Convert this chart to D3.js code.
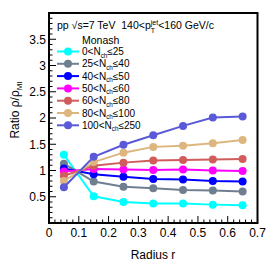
<!DOCTYPE html>
<html><head><meta charset="utf-8">
<script src="https://cdn.jsdelivr.net/npm/d3@7"></script>
<style>body{margin:0;background:#fff}svg{display:block}text{font-family:"Liberation Sans",Arial,sans-serif;fill:#000;white-space:pre}</style>
</head><body><svg id="c" width="273" height="273"></svg>
<script>
const radius = [0.05,0.15,0.25,0.35,0.45,0.55,0.65];
const seriesNames = ["0-25","25-40","40-50","50-60","60-80","80-100","100-250"];
const lowEdges = ["0","25","40","50","60","80","100"];
const highEdges = ["25","40","50","60","80","100","250"];
const colors = ["#00ffff","#6f7f8f","#0000ff","#ff00ff","#d05c5c","#ddb67f","#5a5ad8"];
const s0 = [1.30,0.51,0.40,0.37,0.37,0.35,0.34];
const s1 = [1.13,0.79,0.69,0.66,0.63,0.62,0.60];
const s2 = [1.04,0.93,0.88,0.84,0.83,0.80,0.79];
const s3 = [0.98,1.03,1.02,1.01,1.02,1.00,0.99];
const s4 = [0.90,1.09,1.15,1.19,1.20,1.21,1.22];
const s5 = [0.80,1.16,1.34,1.45,1.47,1.52,1.58];
const s6 = [0.68,1.26,1.49,1.67,1.85,2.01,2.03];
const values = [s0,s1,s2,s3,s4,s5,s6];
const xTicks = [0,0.1,0.2,0.3,0.4,0.5,0.6,0.7];
const yTicks = [0.5,1,1.5,2,2.5,3,3.5];

const svg = d3.select("#c");
const L=49,R=257.5,T=13,B=223;
const x = d3.scaleLinear().domain([0,0.7]).range([L,R]);
const y = d3.scaleLinear().domain([0,4]).range([B,T]);

const g = svg.append("g");
d3.range(0,0.7001,0.02).forEach(v=>{
  const major = Math.abs(v*10-Math.round(v*10))<1e-6;
  g.append("line").attr("x1",x(v)).attr("x2",x(v)).attr("y1",B).attr("y2",B-(major?7:3.5)).attr("stroke","#000").attr("stroke-width",1);
});
d3.range(0,4.0001,0.1).forEach(v=>{
  const major = Math.abs(v*2-Math.round(v*2))<1e-6;
  g.append("line").attr("y1",y(v)).attr("y2",y(v)).attr("x1",L).attr("x2",L+(major?7:3.5)).attr("stroke","#000").attr("stroke-width",1);
});
xTicks.forEach(v=>svg.append("text").attr("x",x(v)).attr("y",237).attr("text-anchor","middle").attr("font-size",12).text(d3.format("")(v)));
yTicks.forEach(v=>svg.append("text").attr("x",46).attr("y",y(v)+4.3).attr("text-anchor","end").attr("font-size",12).text(d3.format("")(v)));
svg.append("rect").attr("x",L).attr("y",T).attr("width",R-L).attr("height",B-T).attr("fill","none").attr("stroke","#000").attr("stroke-width",2);

svg.append("text").attr("x",153).attr("y",259).attr("text-anchor","middle").attr("font-size",12).text("Radius r");
const yt = svg.append("text").attr("transform","translate(19,110) rotate(-90)").attr("text-anchor","middle").attr("font-size",12);
yt.append("tspan").text("Ratio ρ/ρ");
yt.append("tspan").attr("font-size",8).attr("dy",3).text("MI");

const line = d3.line().x((d,i)=>x(radius[i])).y(d=>y(d));
values.forEach((vals,k)=>{
  svg.append("path").attr("d",line(vals)).attr("fill","none").attr("stroke",colors[k]).attr("stroke-width",2);
  svg.selectAll(null).data(vals).enter().append("circle").attr("cx",(d,i)=>x(radius[i])).attr("cy",d=>y(d)).attr("r",4).attr("fill",colors[k]);
});

function rich(xp, yp, segs, fs, subDy, supDy, small){
  let cx = xp, i=0;
  while(i<segs.length){
    const s = segs[i];
    if(s.type==="n"){
      const t = svg.append("text").attr("x",cx).attr("y",yp).attr("font-size",fs).text(s.t);
      cx += t.node().getComputedTextLength();
      i++;
    } else {
      let w=0;
      while(i<segs.length && segs[i].type!=="n"){
        const gs = segs[i];
        const dy = gs.type==="sub"? subDy : supDy;
        const t = svg.append("text").attr("x",cx).attr("y",yp+dy).attr("font-size",small).text(gs.t);
        w = Math.max(w, t.node().getComputedTextLength());
        i++;
      }
      cx += w;
    }
  }
  return cx;
}

rich(57, 29, [{type:"n",t:"pp "},{type:"n",t:"√"},{type:"n",t:"s=7 TeV  140<p"},{type:"sup",t:"jet"},{type:"sub",t:"T"},{type:"n",t:"<160 GeV/c"}], 10.5, 3.5, -4.5, 7);
svg.append("text").attr("x",82).attr("y",44).attr("font-size",10.5).text("Monash");

const ly0 = 51.5, ldy = 12.3;
seriesNames.forEach((n,k)=>{
  const yy = ly0 + k*ldy;
  svg.append("line").attr("x1",57).attr("x2",79).attr("y1",yy).attr("y2",yy).attr("stroke",colors[k]).attr("stroke-width",2);
  svg.append("circle").attr("cx",68).attr("cy",yy).attr("r",4).attr("fill",colors[k]);
  rich(82, yy+3.6, [{type:"n",t:lowEdges[k]+"<N"},{type:"sub",t:"ch"},{type:"n",t:"≤"+highEdges[k]}], 10, 2.4, -4, 6.3);
});
</script></body></html>
